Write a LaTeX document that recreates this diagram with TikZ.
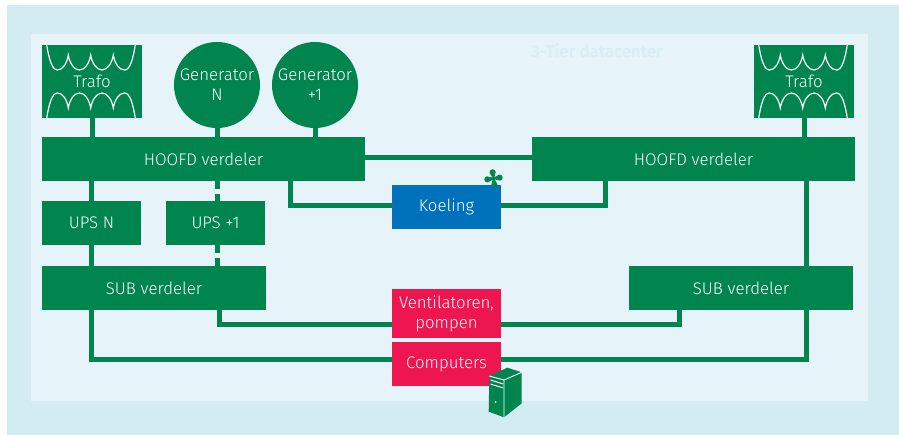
\documentclass[tikz,border=0pt]{standalone}
\usepackage{fontspec}
\setmainfont{Fira Sans Light}
\definecolor{outerbg}{HTML}{D2ECF2}
\definecolor{innerbg}{HTML}{E6F4F9}
\definecolor{ghost}{HTML}{D8EEF4}
\definecolor{grn}{HTML}{00854F}
\definecolor{blu}{HTML}{0072BC}
\definecolor{redd}{HTML}{EE1651}
\tikzset{
  box/.style={fill=grn,text=white,inner sep=0pt,font=\fontsize{12.6pt}{15pt}\selectfont,align=center},
  hoofd/.style={box,minimum width=242.25pt,minimum height=33pt},
  sub/.style={box,minimum width=168pt,minimum height=33pt},
  ups/.style={box,minimum width=74.25pt,minimum height=33pt},
  trafo/.style={box,minimum width=75pt,minimum height=54.75pt},
  gen/.style={box,circle,minimum size=64.5pt},
  load/.style={box,minimum width=81.75pt},
  wire/.style={draw=grn,line width=3.75pt},
  dwire/.style={wire,dash pattern=on 6pt off 3.75pt on 6pt off 10pt},
  coilline/.style={draw=white,line width=0.9pt}
}
\newcommand{\coilpath}[1]{%
 \begin{scope}[shift={(#1)}]
 \draw[coilline] (4.7,0) .. controls (7,14) and (10,25) .. (15.5,25)
   .. controls (21,25) and (25,18) .. (26.3,10)
   .. controls (27.6,18) and (32,25) .. (37.5,25)
   .. controls (43,25) and (47.4,18) .. (48.7,10)
   .. controls (50,18) and (54.5,25) .. (60,25)
   .. controls (65.5,25) and (70,18) .. (71.3,10)
   .. controls (72.6,18) and (77,25) .. (82.5,25)
   .. controls (88,25) and (91,14) .. (93.3,0);
 \draw[coilline] (4.7,73) .. controls (7,59) and (10,48) .. (15.5,48)
   .. controls (21,48) and (25,55) .. (26.3,63)
   .. controls (27.6,55) and (32,48) .. (37.5,48)
   .. controls (43,48) and (47.4,55) .. (48.7,63)
   .. controls (50,55) and (54.5,48) .. (60,48)
   .. controls (65.5,48) and (70,55) .. (71.3,63)
   .. controls (72.6,55) and (77,48) .. (82.5,48)
   .. controls (88,48) and (91,59) .. (93.3,73);
 \end{scope}}
\begin{document}
\begin{tikzpicture}[x=0.75pt,y=-0.75pt]
\useasboundingbox (0,0) rectangle (899,435);
\fill[outerbg] (7,5) rectangle (899,435);
\fill[innerbg] (31,34) rectangle (868,401);
\node[text=ghost,font=\fontsize{12.6pt}{15pt}\selectfont\bfseries,inner sep=0pt] (title) at (597,51) {3-Tier datacenter};

% nodes
\node[trafo] (trafoL) at (92,81.5) {Trafo};
\node[trafo] (trafoR) at (804,81.5) {Trafo};
\node[gen] (genN) at (217,85) {Generator\\N};
\node[gen] (genP) at (315,85) {Generator\\+1};
\node[hoofd] (hoofdL) at (203.5,159) {HOOFD verdeler};
\node[hoofd] (hoofdR) at (693.5,159) {HOOFD verdeler};
\node[ups] (upsN) at (91.5,223) {UPS N};
\node[ups] (upsP) at (215.5,223) {UPS +1};
\node[sub] (subL) at (154,288) {SUB verdeler};
\node[sub] (subR) at (741,288) {SUB verdeler};
\node[load,fill=blu,minimum height=33pt] (koel) at (446.5,207) {Koeling};
\node[load,fill=redd,minimum height=36.75pt] (vent) at (446.5,313.5) {Ventilatoren,\\pompen};
\node[load,fill=redd,minimum height=33pt] (comp) at (446.5,364) {Computers};
\coilpath{42,45}
\coilpath{754,45}

% free bend points
\coordinate (kl) at (290,205);
\coordinate (kr) at (605,205);
\coordinate (vl) at (219,324);
\coordinate (vr) at (679,324);
\coordinate (cl) at (91.5,359);
\coordinate (cr) at (806,359);
\coordinate (hb) at (217,181);
\coordinate (ub) at (217,245);

% connectors
\begin{scope}[on background layer/.try]
\draw[wire] (trafoL.south) -- (trafoL.south |- hoofdL.north);
\draw[wire] (trafoR.south) -- (trafoR.south |- hoofdR.north);
\draw[wire] (genN.south) -- (genN.south |- hoofdL.north);
\draw[wire] (genP.south) -- (genP.south |- hoofdL.north);
\draw[wire] (hoofdL.east |- 0,157.5) -- (hoofdR.west |- 0,157.5);
\draw[wire] (hoofdL.south -| upsN) -- (upsN.north);
\draw[wire] (upsN.south) -- (upsN.south |- subL.north);
\draw[dwire] (hb) -- (hb |- upsP.north);
\draw[dwire] (ub) -- (ub |- subL.north);
\draw[wire] (kl |- hoofdL.south) -- (kl) -- (koel.west |- kl);
\draw[wire] (kr |- hoofdR.south) -- (kr) -- (koel.east |- kr);
\draw[wire] (vl |- subL.south) -- (vl) -- (vent.west |- vl);
\draw[wire] (vr |- subR.south) -- (vr) -- (vent.east |- vr);
\draw[wire] (cl |- subL.south) -- (cl) -- (comp.west |- cl);
\draw[wire] (cr |- subR.south) -- (cr) -- (comp.east |- cr);
\draw[wire] (cr |- hoofdR.south) -- (cr |- subR.north);
\end{scope}

% fan
\begin{scope}[shift={(493.5,178.5)},rotate=8]
\fill[grn] (0,0) circle (2.5*0.75);
\foreach \a in {0,90,180,270}{
  \fill[grn,rotate=\a] (-1,0) -- (1,0) -- (2,-4) -- (-2,-4) -- cycle;
  \fill[grn,rotate=\a] (0,-6.2) circle (3.1);
}
\end{scope}

% server
\fill[grn] (489.3,376) -- (507.3,367.7) -- (521.7,372.3) -- (521.7,403.3) -- (504,417.3) -- (488.7,411.7) -- cycle;
\draw[white,line width=0.7pt] (489.3,376) -- (504,380) -- (504,417.3);
\draw[white,line width=0.7pt] (504,380) -- (521.7,372.3);
\draw[white,line width=0.7pt] (490.5,380) -- (503.3,384);
\draw[white,line width=0.7pt] (490.5,384) -- (503.3,388);
\fill[white] (495.7,402) circle (1);
\end{tikzpicture}
\end{document}
